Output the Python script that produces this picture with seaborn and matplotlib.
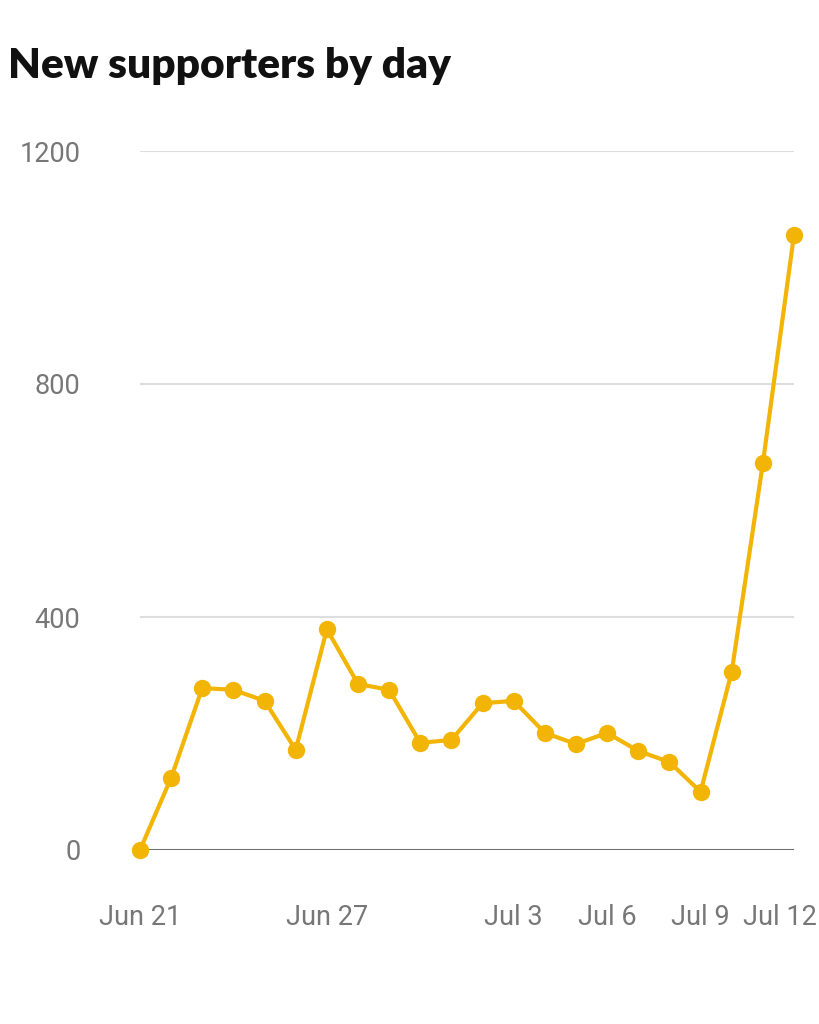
import matplotlib
matplotlib.use("Agg")
import matplotlib.pyplot as plt
import matplotlib.transforms as mtransforms
import seaborn as sns
import pandas as pd

dates = pd.date_range("2024-06-21", "2024-07-12", freq="D")
supporters = [0, 124, 278, 275, 256, 172, 379, 285, 275, 184, 189,
              252, 256, 201, 182, 201, 170, 151, 100, 306, 664, 1056]

tick_dates = pd.to_datetime(["2024-06-21", "2024-06-27", "2024-07-03",
                             "2024-07-06", "2024-07-09", "2024-07-12"])
tick_labels = ["Jun 21", "Jun 27", "Jul 3", "Jul 6", "Jul 9", "Jul 12"]
y_ticks = [0, 400, 800, 1200]

YELLOW = "#F2B405"

sns.set_theme(style="white")
plt.rcParams["font.family"] = ["Roboto", "DejaVu Sans"]

df = pd.DataFrame({"date": dates, "supporters": supporters})

fig = plt.figure(figsize=(8.2, 10.24), dpi=100)
ax = fig.add_axes([140 / 820, 174 / 1024, 654 / 820, 699 / 1024])

for y in y_ticks[1:]:
    ax.axhline(y, color="#dddddd", lw=1.5, zorder=0)
ax.axhline(0, color="#6f6f6f", lw=2.2, zorder=1)

sns.lineplot(data=df, x="date", y="supporters", ax=ax, color=YELLOW,
             lw=3, marker="o", markersize=12.5, markeredgewidth=0, clip_on=False, zorder=3)

ax.set_xlim(dates[0], dates[-1])
ax.set_ylim(0, 1200)
ax.set_yticks(y_ticks)
ax.set_yticklabels([str(v) for v in y_ticks])
ax.set_xticks(tick_dates)
ax.set_xticklabels(tick_labels)
ax.tick_params(axis="y", length=0, pad=43, labelsize=19.5, labelcolor="#777777")
ax.tick_params(axis="x", length=0, pad=39, labelsize=19.5, labelcolor="#777777")
ax.set_xlabel("")
ax.set_ylabel("")
sns.despine(ax=ax, left=True, bottom=True)

# the last date label sits a bit left so it stays on the canvas
last = ax.get_xticklabels()[-1]
last.set_transform(last.get_transform() +
                   mtransforms.ScaledTranslation(-14 / 100, 0, fig.dpi_scale_trans))

fig.text(8 / 820, 1 - 66 / 1024, "New supporters by day", fontsize=30.5,
         fontweight="heavy", color="#111111", family=["Lato", "DejaVu Sans"],
         va="center", ha="left")

fig.savefig("out.png", dpi=100)
